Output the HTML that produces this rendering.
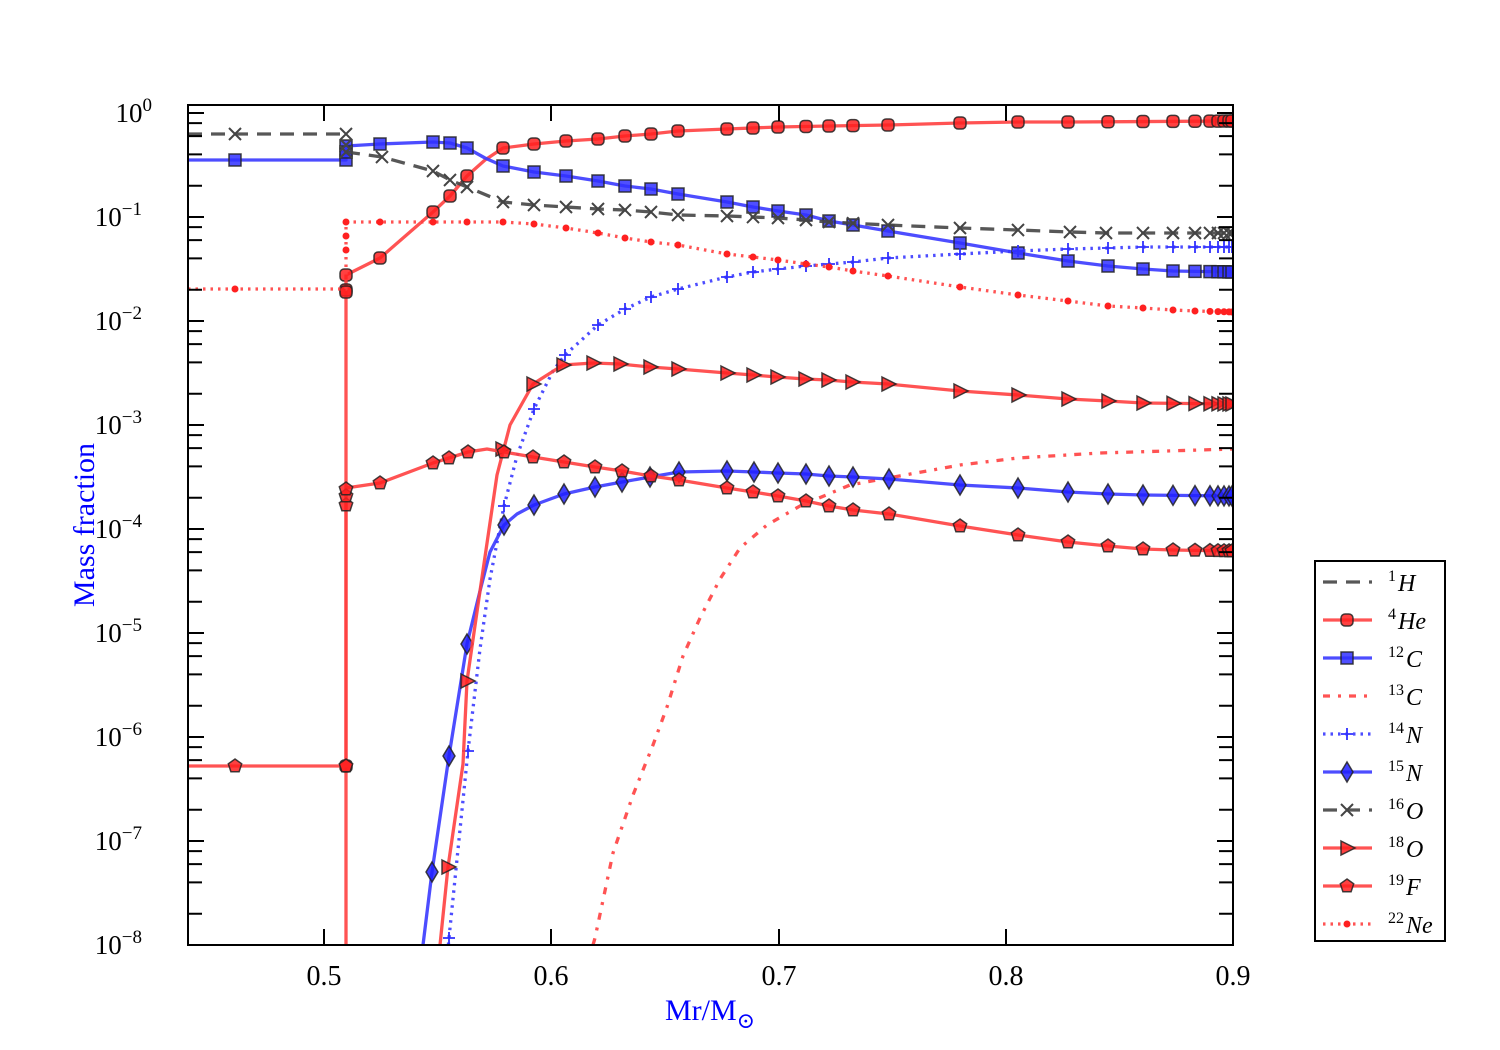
<!DOCTYPE html>
<html><head><meta charset="utf-8"><style>
html,body{margin:0;padding:0;background:#fff}
svg{display:block}
text{font-family:"Liberation Serif","DejaVu Serif",serif}
</style></head><body>
<svg id="s" width="1500" height="1050" xmlns="http://www.w3.org/2000/svg">
<defs><clipPath id="cp"><rect x="188" y="105" width="1045" height="840"/></clipPath></defs>
<rect width="1500" height="1050" fill="#fff"/>
<g id="plot" clip-path="url(#cp)"></g>
<g id="axes"></g>
<g id="leg"></g>
</svg>
<script>
const NS="http://www.w3.org/2000/svg";
function el(p,t,a){const e=document.createElementNS(NS,t);for(const k in a)e.setAttribute(k,a[k]);p.appendChild(e);return e;}
const plot=document.getElementById('plot'),axes=document.getElementById('axes'),leg=document.getElementById('leg');
const RED='#ff4040',BLUE='#3a3aff',GRAY='#454545';
const tail=[1173,1195,1210,1218,1224,1229,1232];
function interp(pts,x){
  for(let i=0;i<pts.length-1;i++){const a=pts[i],b=pts[i+1];if(a[0]!==b[0]&&x>=a[0]&&x<=b[0])return a[1]+(b[1]-a[1])*(x-a[0])/(b[0]-a[0]);}
  return pts[pts.length-1][1];}
function marker(g,type,x,y,fill){
  const st={fill:fill,stroke:'#222','stroke-width':1.5,'stroke-opacity':0.85,'fill-opacity':0.85};
  if(type==='o')el(g,'rect',Object.assign({x:x-6,y:y-6,width:12,height:12,rx:4},st));
  else if(type==='s')el(g,'rect',Object.assign({x:x-6,y:y-6,width:12,height:12},st));
  else if(type==='d')el(g,'polygon',Object.assign({points:`${x},${y-10} ${x+6},${y} ${x},${y+10} ${x-6},${y}`},st));
  else if(type==='>')el(g,'polygon',Object.assign({points:`${x-6},${y-7} ${x+8},${y} ${x-6},${y+7}`},st));
  else if(type==='p'){let p=[];for(let k=0;k<5;k++){const a=-Math.PI/2+k*2*Math.PI/5;p.push((x+7*Math.cos(a)).toFixed(1)+','+(y+7*Math.sin(a)).toFixed(1));}el(g,'polygon',Object.assign({points:p.join(' ')},st));}
  else if(type==='x'){el(g,'path',{d:`M${x-6} ${y-6}L${x+6} ${y+6}M${x-6} ${y+6}L${x+6} ${y-6}`,stroke:fill,'stroke-width':2});}
  else if(type==='+'){el(g,'path',{d:`M${x-6} ${y}L${x+6} ${y}M${x} ${y-6}L${x} ${y+6}`,stroke:fill,'stroke-width':1.8});}
  else if(type==='.'){el(g,'circle',{cx:x,cy:y,r:3.5,fill:fill});}
}
const series=[
 {name:'1',el:'H',col:GRAY,dash:'14,9',mk:'x',mc:'#444',legmk:false,
  pts:[[188,134],[346,134]],mx:[235],extra:[[346,134]]},
 {name:'4',el:'He',col:RED,dash:'',mk:'o',mc:'#ff2020',
  pts:[[346,945],[346,275],[380,258],[433,212],[450,196],[467,176],[485,160],[503,148],[534,144],[566,141],[598,139],[625,136],[651,134],[678,131],[727,129],[778,127],[829,126],[888,125],[960,123],[1018,122],[1070,122],[1233,121]],
  mx:[380,433,450,467,503,534,566,598,625,651,678,727,753,778,806,829,853,888,960,1018,1068,1108,1143].concat(tail),extra:[[346,275],[346,290],[346,292],[346,766]]},
 {name:'12',el:'C',col:BLUE,dash:'',mk:'s',mc:'#3030ff',
  pts:[[188,160],[346,160],[346,146],[380,144],[433,142],[450,143],[467,148],[485,158],[503,166],[534,172],[566,176],[598,181],[625,186],[651,189],[678,194],[727,202],[753,207],[778,211],[806,215],[829,221],[853,225],[888,231],[960,243],[1018,253],[1068,261],[1108,266],[1143,269],[1173,271],[1233,272]],
  mx:[235,380,433,450,467,503,534,566,598,625,651,678,727,753,778,806,829,853,888,960,1018,1068,1108,1143].concat(tail),extra:[[346,160],[346,146],[346,152]]},
 {name:'13',el:'C',col:RED,dash:'7,8,3,8',mk:null,
  pts:[[593,945],[595,938],[613,853],[633,795],[653,745],[667,707],[683,656],[700,618],[720,579],[740,548],[767,525],[800,506],[850,485],[883,479],[960,465],[1018,458],[1100,453],[1233,449]],mx:[]},
 {name:'14',el:'N',col:BLUE,dash:'2.5,5',mk:'+',mc:'#3030ff',
  pts:[[447,960],[449,938],[468,751],[480,649],[490,579],[504,506],[517,456],[534,409],[553,371],[565,355],[598,325],[625,309],[651,297],[678,289],[727,277],[753,272],[778,269],[806,266],[829,264],[853,262],[888,258],[960,254],[1018,251],[1068,249],[1108,248],[1143,247],[1233,247]],
  mx:[449,468,504,534,565,598,625,651,678,727,753,778,806,829,853,888,960,1018,1068,1108,1143].concat(tail)},
 {name:'15',el:'N',col:BLUE,dash:'',mk:'d',mc:'#2020ff',
  pts:[[423,945],[432,872],[449,756],[467,644],[480,591],[490,552],[504,525],[517,514],[534,505],[564,494],[595,487],[622,482],[650,477],[679,472],[727,471],[754,472],[778,473],[806,474],[829,476],[853,477],[889,479],[960,485],[1018,488],[1068,492],[1108,494],[1143,495],[1233,496]],
  mx:[432,449,467,504,534,564,595,622,650,679,727,754,778,806,829,853,889,960,1018,1068,1108,1143].concat(tail)},
 {name:'16',el:'O',col:GRAY,dash:'14,9',mk:'x',mc:'#444',
  pts:[[346,152],[382,157],[433,171],[450,180],[467,187],[503,202],[534,205],[566,207],[598,209],[625,210],[651,212],[678,215],[727,216],[778,218],[806,220],[829,222],[888,225],[960,228],[1018,230],[1070,232],[1106,233],[1233,233]],
  mx:[382,433,450,467,503,534,566,598,625,651,678,727,753,778,806,829,853,888,960,1018,1070,1106,1143].concat(tail),extra:[[346,152],[346,145]]},
 {name:'18',el:'O',col:RED,dash:'',mk:'>',mc:'#ff2020',
  pts:[[440,945],[448,867],[463,764],[467,681],[480,591],[497,475],[510,425],[533,384],[563,365],[593,363],[620,364],[650,367],[678,369],[727,373],[753,375],[777,377],[805,379],[828,380],[852,382],[888,384],[960,391],[1018,395],[1068,399],[1108,401],[1143,403],[1233,404]],
  mx:[448,467,533,563,593,620,650,678,727,753,777,805,828,852,888,960,1018,1068,1108,1143].concat(tail),extra:[[502,449]]},
 {name:'19',el:'F',col:RED,dash:'',mk:'p',mc:'#ff2020',
  pts:[[188,766],[346,766],[346,488],[380,483],[433,463],[449,458],[468,452],[487,449],[504,452],[533,457],[564,462],[595,467],[622,471],[651,476],[679,480],[727,488],[753,492],[778,496],[806,501],[829,506],[853,510],[889,514],[960,526],[1018,535],[1068,542],[1108,546],[1143,549],[1173,550],[1233,551]],
  mx:[235,380,433,449,468,504,533,564,595,622,651,679,727,753,778,806,829,853,889,960,1018,1068,1108,1143].concat(tail),extra:[[346,766],[346,505],[346,496],[346,489]]},
 {name:'22',el:'Ne',col:RED,dash:'2.5,5',mk:'.',mc:'#ff2020',
  pts:[[188,289],[346,289],[346,222],[380,222],[433,222],[467,222],[503,222],[534,224],[566,228],[598,233],[625,238],[651,242],[678,245],[727,254],[753,257],[778,260],[806,264],[829,267],[853,271],[888,276],[960,287],[1018,295],[1068,301],[1108,306],[1143,308],[1173,310],[1195,311],[1233,312]],
  mx:[235,380,433,467,503,534,566,598,625,651,678,727,753,778,806,829,853,888,960,1018,1068,1108,1143].concat(tail),extra:[[346,222],[346,236],[346,250]]}
];
for(const s of series){
  const g=el(plot,'g',{});
  if(s.pts.length)el(g,'polyline',{points:s.pts.map(p=>p.join(',')).join(' '),fill:'none',stroke:s.col,'stroke-width':3.3,'stroke-opacity':0.9,'stroke-dasharray':s.dash||'none','stroke-linejoin':'round'});
  if(s.mk){for(const x of s.mx)marker(g,s.mk,x,interp(s.pts,x),s.mc);
    for(const e of (s.extra||[]))marker(g,s.mk,e[0],e[1],s.mc);}
}
el(axes,'rect',{x:188,y:105,width:1045,height:840,fill:'none',stroke:'#000','stroke-width':2});
[[0.5,324],[0.6,551],[0.7,779],[0.8,1006],[0.9,1233]].forEach(([v,x])=>{
  el(axes,'path',{d:`M${x} 945v-16M${x} 105v16`,stroke:'#000','stroke-width':2});
  el(axes,'text',{x:x,y:985,'font-size':28,'text-anchor':'middle'}).textContent=v.toFixed(1);
});
const mins=[2,4,6,8];
for(let d=0;d<=8;d++){
  const y=113+104*d;
  el(axes,'path',{d:`M188 ${y}h16M1233 ${y}h-16`,stroke:'#000','stroke-width':2});
  const t=el(axes,'text',{x:d===0?152:142,y:y+9,'font-size':27,'text-anchor':'end'});
  t.textContent='10';
  const sp=el(t,'tspan',{dy:-11,'font-size':19});sp.textContent=d===0?'0':'\u2212'+d;
  if(d<8)for(const m of mins){const yy=y+104-104*Math.log10(m);
    el(axes,'path',{d:`M188 ${yy}h14M1233 ${yy}h-14`,stroke:'#000','stroke-width':2});}
}
for(const m of mins){const yy=113-104*Math.log10(m);if(yy>106)el(axes,'path',{d:`M188 ${yy}h14M1233 ${yy}h-14`,stroke:'#000','stroke-width':2});}
el(axes,'text',{x:0,y:0,'font-size':30,fill:'#0000ff','text-anchor':'middle',transform:'translate(94,525) rotate(-90)'}).textContent='Mass fraction';
const xl=el(axes,'text',{x:710,y:1020,'font-size':30,fill:'#0000ff','text-anchor':'middle'});
xl.textContent='Mr/M';const s2=el(xl,'tspan',{dy:8,'font-size':22});s2.textContent='\u2299';
el(leg,'rect',{x:1315,y:561,width:130,height:380,fill:'#fff',stroke:'#000','stroke-width':2});
series.forEach((s,i)=>{
  const y=582+38*i;
  el(leg,'line',{x1:1323,y1:y,x2:1372,y2:y,stroke:s.col,'stroke-width':3.3,'stroke-opacity':0.9,'stroke-dasharray':s.dash||'none'});
  if(s.mk&&s.legmk!==false)marker(leg,s.mk,1347,y,s.mc);
  const t=el(leg,'text',{x:1388,y:y+9,'font-size':24,'font-style':'italic'});
  const a=el(t,'tspan',{dy:-10,'font-size':16,'font-style':'normal'});a.textContent=s.name;
  const b=el(t,'tspan',{dy:10,dx:2});b.textContent=s.el;
});
</script>
</body></html>
